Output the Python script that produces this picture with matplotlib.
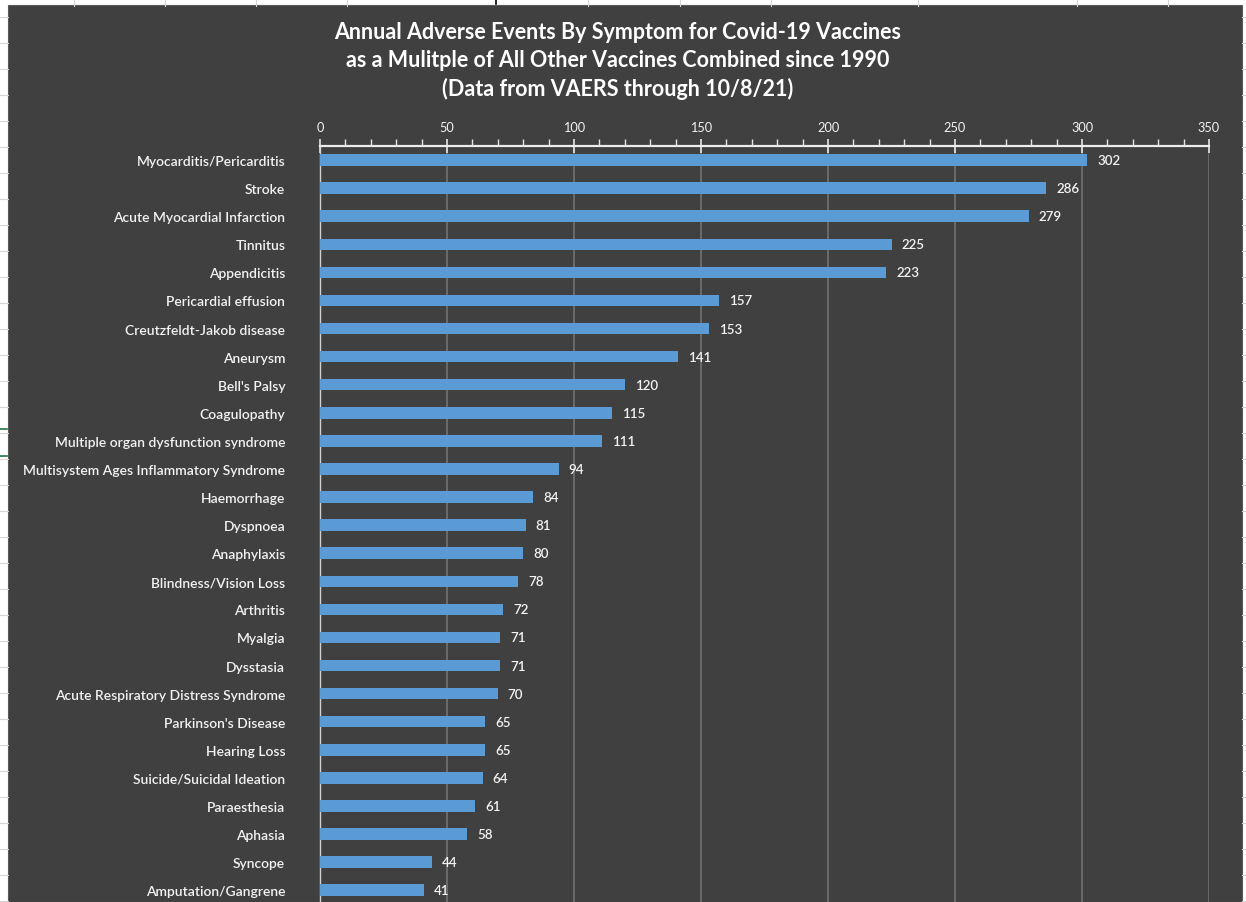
import numpy as np
import matplotlib.pyplot as plt
from matplotlib.lines import Line2D
from matplotlib.patches import Rectangle
from matplotlib.ticker import MultipleLocator

# Symptoms and their multiples (Covid-19 vaccines vs all others since 1990)
symptoms = [
    'Myocarditis/Pericarditis', 'Stroke', 'Acute Myocardial Infarction',
    'Tinnitus', 'Appendicitis', 'Pericardial effusion',
    'Creutzfeldt-Jakob disease', 'Aneurysm', "Bell's Palsy", 'Coagulopathy',
    'Multiple organ dysfunction syndrome',
    'Multisystem Ages Inflammatory Syndrome', 'Haemorrhage', 'Dyspnoea',
    'Anaphylaxis', 'Blindness/Vision Loss', 'Arthritis', 'Myalgia',
    'Dysstasia', 'Acute Respiratory Distress Syndrome', "Parkinson's Disease",
    'Hearing Loss', 'Suicide/Suicidal Ideation', 'Paraesthesia', 'Aphasia',
    'Syncope', 'Amputation/Gangrene',
]
multiples = [302, 286, 279, 225, 223, 157, 153, 141, 120, 115, 111, 94, 84,
             81, 80, 78, 72, 71, 71, 70, 65, 65, 64, 61, 58, 44, 41]

title_lines = [
    'Annual Adverse Events By Symptom for Covid-19 Vaccines',
    'as a Mulitple of All Other Vaccines Combined since 1990',
    '(Data from VAERS through 10/8/21)',
]

W, H = 1246, 903
PANEL = '#404040'
BAR = '#5b9bd5'
FONT = 'Lato'
TXT = '#f2f2f2'

fig = plt.figure(figsize=(W / 100, H / 100), dpi=100)
fig.patch.set_facecolor('white')

# spreadsheet cell lines peeking out around the chart object
sheet = '#d6d6d6'
for xp in [74, 165, 256, 347, 588, 680, 771, 918, 1077, 1168]:
    fig.add_artist(Line2D([xp / W, xp / W], [1, 1 - 7 / H], color=sheet, lw=0.8))
for yp in np.arange(18, H, 26):
    fig.add_artist(Line2D([0, 8 / W], [1 - yp / H] * 2, color=sheet, lw=0.8))
    fig.add_artist(Line2D([1242 / W, 1], [1 - yp / H] * 2, color=sheet, lw=0.8))
fig.add_artist(Line2D([496 / W, 496 / W], [1, 1 - 5 / H], color='black', lw=1.2))
for yp in [430, 457]:
    fig.add_artist(Line2D([0, 7 / W], [1 - yp / H] * 2, color='#217346', lw=1.2))

# dark chart panel
fig.add_artist(Rectangle((8 / W, 0), (1242 - 8) / W, (H - 6) / H,
                         transform=fig.transFigure, facecolor=PANEL,
                         edgecolor='#5a5a5a', lw=0.8, zorder=0))

ax = fig.add_axes([320 / W, 0, (1209 - 320) / W, (H - 147) / H])
ax.set_facecolor(PANEL)

ypos = np.arange(len(symptoms))
ax.barh(ypos, multiples, height=0.41, color=BAR, zorder=3)
for yv, val in zip(ypos, multiples):
    ax.annotate(str(val), (val, yv), xytext=(10, 0), textcoords='offset pixels',
                ha='left', va='center', color=TXT, fontsize=9.6,
                family=FONT, fontweight='semibold')

ax.set_xlim(0, 350)
ax.set_ylim(26.42, -0.5)
ax.xaxis.set_major_locator(MultipleLocator(50))
ax.xaxis.set_minor_locator(MultipleLocator(10))
ax.xaxis.tick_top()
ax.tick_params(axis='x', which='major', direction='inout', length=10,
               width=1.2, color='#e6e6e6', labelcolor=TXT,
               labelsize=9.2, pad=4)
ax.tick_params(axis='x', which='minor', direction='out', length=5,
               width=1.0, color='#e6e6e6')
for lab in ax.get_xticklabels():
    lab.set_family(FONT)

ax.set_yticks(ypos)
ax.set_yticklabels(symptoms, family=FONT, fontsize=10, color=TXT,
                   fontweight='semibold')
ax.tick_params(axis='y', length=0, pad=25)

ax.grid(axis='x', which='major', color='#767676', lw=1.1, zorder=1)
for side in ['right', 'bottom']:
    ax.spines[side].set_visible(False)
ax.spines['top'].set_color('#ececec')
ax.spines['top'].set_linewidth(1.6)
ax.spines['left'].set_color('#d0d0d0')
ax.spines['left'].set_linewidth(1.0)

for text, base in zip(title_lines, [39, 67, 96]):
    fig.text(618 / W, 1 - base / H, text, ha='center', va='baseline',
             color='white', fontsize=15.5, fontweight='bold', family=FONT)

fig.savefig('out.png', dpi=100, facecolor=fig.get_facecolor())
